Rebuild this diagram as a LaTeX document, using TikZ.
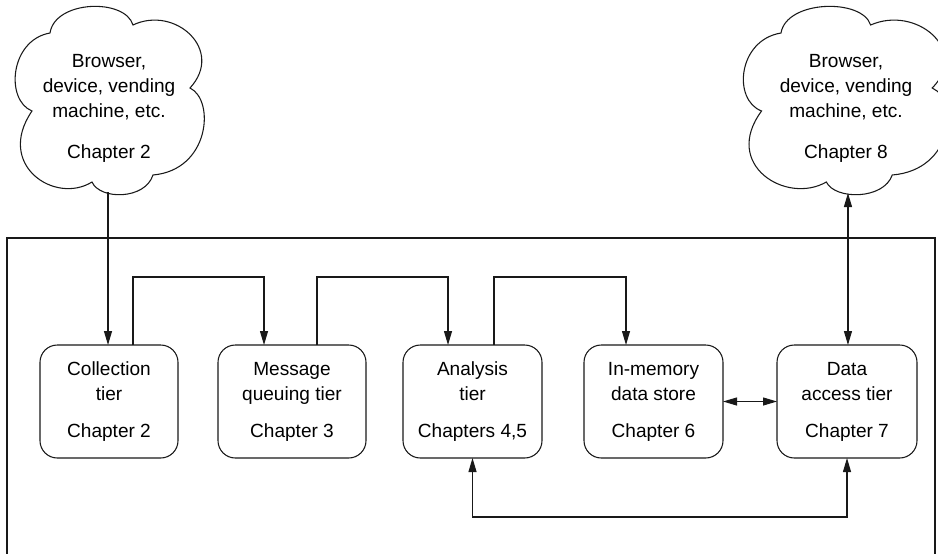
\documentclass[tikz,border=0pt]{standalone}
\usepackage{fontspec}
\setmainfont{Liberation Sans}
\usetikzlibrary{arrows.meta,calc}
\begin{document}
\begin{tikzpicture}[x=0.75pt,y=-0.75pt,
  line width=0.8pt, draw=black!90,
  txt/.style={font=\fontsize{14.3}{18.75}\selectfont, align=center, inner sep=0pt},
  tier/.style={txt, draw, rounded corners=13pt, minimum height=84.75pt, outer sep=0pt},
  arr/.style={-{Triangle[length=10.5pt,width=6pt]}},
  darr/.style={{Triangle[length=10.5pt,width=6pt]}-{Triangle[length=10.5pt,width=6pt]}}]
\useasboundingbox (0,0) rectangle (938,553);
\clip (0,0) rectangle (938,553);
\def\cloudpath{(50,33) .. controls (55,0) and (125,-2) .. (133,25)
  .. controls (175,5) and (225,50) .. (190,88)
  .. controls (215,100) and (210,170) .. (153,175)
  .. controls (145,200) and (100,200) .. (92,182)
  .. controls (55,205) and (-5,165) .. (32,111)
  .. controls (5,100) and (10,40) .. (50,33) -- cycle}
% outer frame
\draw (7,600) -- (7,238) -- (935,238) -- (935,600);
% clouds
\draw \cloudpath;
\coordinate (c1b) at (108,192);
\begin{scope}[shift={(727,0)},xscale=1.08]
  \draw \cloudpath;
  \coordinate (c2b) at (112,193);
\end{scope}
\node[txt] (cl1) at (109,108) {Browser,\\device, vending\\machine, etc.\\[12pt]Chapter 2};
\node[txt] (cl2) at (846,108) {Browser,\\device, vending\\machine, etc.\\[12pt]Chapter 8};
% tiers
\node[tier, minimum width=103.5pt] (col) at (109,401.5) {Collection\\tier\\[9pt]Chapter 2};
\node[tier, minimum width=111pt] (msg) at (292,401.5) {Message\\queuing tier\\[9pt]Chapter 3};
\node[tier, minimum width=104.25pt] (ana) at (472.5,401.5) {Analysis\\tier\\[9pt]Chapters 4,5};
\node[tier, minimum width=104.25pt] (mem) at (653.5,401.5) {In-memory\\data store\\[9pt]Chapter 6};
\node[tier, minimum width=105pt] (dat) at (847,401.5) {Data\\access tier\\[9pt]Chapter 7};
% connectors
\draw[arr] (c1b) -- (c1b |- col.north);
\draw[arr] ($(col.north)+(24,0)$) -- ++(0,-68) -| ($(msg.north)+(-28,0)$);
\draw[arr] ($(msg.north)+(25,0)$) -- ++(0,-68) -| ($(ana.north)+(-24.5,0)$);
\draw[arr] ($(ana.north)+(21.5,0)$) -- ++(0,-68) -| ($(mem.north)+(-27.5,0)$);
\draw[darr] (mem) -- (dat);
\draw[darr] (ana.south) -- ++(0,59) -| (dat.south);
\draw[darr] (c2b) -- (c2b |- dat.north);
\end{tikzpicture}
\end{document}
